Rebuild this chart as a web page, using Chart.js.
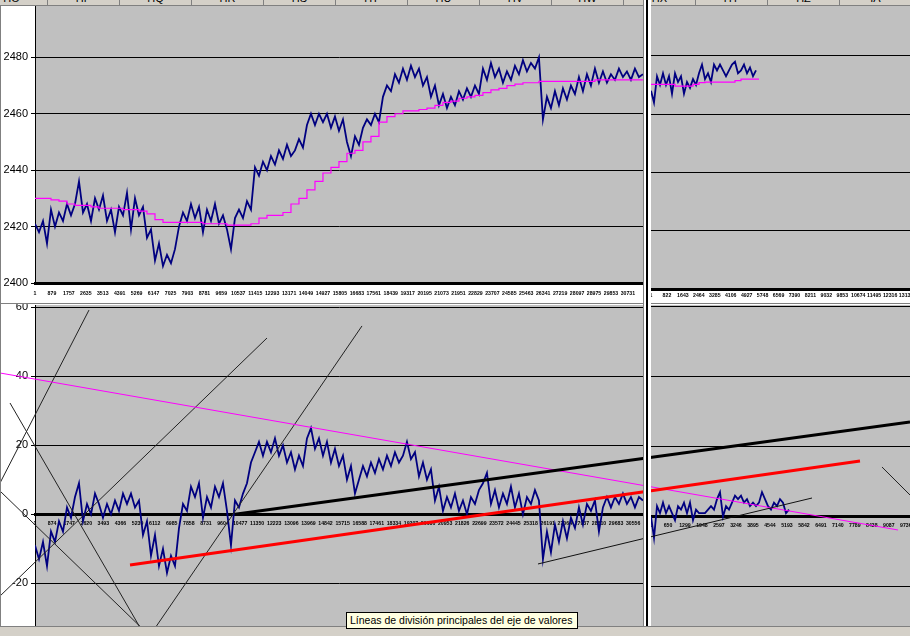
<!DOCTYPE html>
<html>
<head>
<meta charset="utf-8">
<script src="https://cdn.jsdelivr.net/npm/chart.js@4.4.1/dist/chart.umd.min.js"></script>
<style>
  html, body { margin: 0; padding: 0; }
  body {
    width: 910px; height: 636px; overflow: hidden; position: relative;
    background: #fff; font-family: "Liberation Sans", Arial, sans-serif;
  }
  canvas { position: absolute; display: block; }
  #hdr {
    position: absolute; left: 0; top: 0; width: 910px; height: 5px;
    background: #d4d0c8; border-bottom: 1px solid #808080; overflow: hidden; z-index: 3;
  }
  .col {
    position: absolute; top: -9px; height: 14px; width: 71px;
    border-right: 1px solid #808080; text-align: center;
    font-size: 11px; line-height: 14px; color: #000;
  }
  #edge { position: absolute; left: 0; top: 6px; width: 1px; height: 620px; background: #808080; z-index: 4; }
  #split {
    position: absolute; left: 643px; top: 0; width: 8px; height: 626px;
    background: #fff; border-left: 1px solid #808080; box-sizing: border-box; z-index: 5;
  }
  #split i { position: absolute; left: 2px; top: 0; width: 2px; height: 100%; background: #000; }
  #mid { position: absolute; left: 0; top: 303px; width: 910px; height: 1px; background: #808080; z-index: 4; }
  #foot {
    position: absolute; left: 0; top: 626px; width: 910px; height: 10px;
    background: #d4d0c8; border-top: 1px solid #808080; box-sizing: border-box; z-index: 6;
  }
  #tip {
    position: absolute; left: 346px; top: 612px; width: 232px; height: 17px; box-sizing: border-box;
    background: #ffffe1; border: 1px solid #000; font-size: 10.5px; line-height: 15px;
    padding-left: 3px; white-space: nowrap; overflow: hidden; z-index: 7; color: #000;
  }
</style>
</head>
<body>
<div id="hdr"></div>
<canvas id="cTL" width="645" height="297" style="left:0;top:6px;z-index:1"></canvas>
<canvas id="cTR" width="300" height="297" style="left:651px;top:6px;z-index:1"></canvas>
<canvas id="cBR" width="300" height="322" style="left:651px;top:304px;z-index:1"></canvas>
<canvas id="cBL" width="910" height="322" style="left:0;top:304px;z-index:2"></canvas>
<div id="edge"></div>
<div id="mid"></div>
<div id="split"><i></i></div>
<div id="foot"></div>
<div id="tip">Líneas de división principales del eje de valores</div>

<script>
// ── sheet column headers ─────────────────────────────────────────────
const COLS = ["HO", "HP", "HQ", "HR", "HS", "HT", "HU", "HV", "HW", "HX", "HY", "HZ", "IA"];

// ── axes ─────────────────────────────────────────────────────────────
const Y_TICKS_PRICE = [2400, 2420, 2440, 2460, 2480];
const Y_TICKS_DIFF = [-20, 0, 20, 40, 60];

const X_TICKS_TL = [1, 879, 1757, 2635, 3513, 4391, 5269, 6147, 7025, 7903, 8781, 9659,
  10537, 11415, 12293, 13171, 14049, 14927, 15805, 16683, 17561, 18439, 19317, 20195,
  21073, 21951, 22829, 23707, 24585, 25463, 26341, 27219, 28097, 28975, 29853, 30731];
const X_TICKS_BL = [1, 874, 1747, 2620, 3493, 4366, 5239, 6112, 6985, 7858, 8731, 9604,
  10477, 11350, 12223, 13096, 13969, 14842, 15715, 16588, 17461, 18334, 19207, 20080,
  20953, 21826, 22699, 23572, 24445, 25318, 26191, 27064, 27937, 28810, 29683, 30556];
const X_TICKS_TR = [1, 822, 1643, 2464, 3285, 4106, 4927, 5748, 6569, 7390, 8211, 9032,
  9853, 10674, 11495, 12316, 13137];
const X_TICKS_BR = [1, 650, 1299, 1948, 2597, 3246, 3895, 4544, 5193, 5842, 6491, 7140,
  7789, 8438, 9087, 9736];

// ── series (values read off the picture, sampled every few rows) ────
// price, main pane (one value every 207 rows)
const TL_PRICE = [
  2421, 2418, 2422, 2414, 2426, 2420, 2425, 2422, 2428, 2424,
  2428, 2436, 2425, 2428, 2422, 2430, 2426, 2431, 2422, 2426,
  2418, 2427, 2424, 2432, 2419, 2430, 2424, 2427, 2416, 2419,
  2408, 2414, 2406, 2410, 2407, 2412, 2420, 2425, 2422, 2428,
  2423, 2427, 2418, 2426, 2422, 2428, 2421, 2424, 2419, 2412,
  2423, 2426, 2423, 2429, 2426, 2441, 2438, 2443, 2440, 2445,
  2442, 2447, 2444, 2449, 2445, 2447, 2451, 2448, 2456, 2460,
  2456, 2460, 2457, 2460, 2455, 2459, 2454, 2458, 2450, 2445,
  2452, 2449, 2455, 2458, 2456, 2460, 2457, 2466, 2470, 2468,
  2474, 2471, 2476, 2472, 2477, 2473, 2476, 2470, 2473, 2466,
  2470, 2463, 2467, 2462, 2466, 2463, 2468, 2465, 2469, 2466,
  2470, 2467, 2476, 2472, 2478, 2473, 2476, 2471, 2475, 2472,
  2477, 2474, 2479, 2475, 2478, 2476, 2480, 2458, 2466, 2462,
  2468, 2463, 2469, 2465, 2470, 2467, 2473, 2468, 2474, 2470,
  2476, 2471, 2475, 2471, 2474, 2472, 2476, 2473, 2475, 2472,
  2476, 2473, 2474,
];
const TL_PRICE_STEP = 207.3;

// moving level, main pane (one value every 415 rows)
const TL_LEVEL = [
  2430, 2430, 2429.5, 2429, 2428, 2427.5, 2427.5, 2427, 2426.5, 2426.5,
  2426.5, 2426, 2426, 2425.5, 2424.5, 2422.5, 2421.5, 2421.5, 2421.5, 2421.5,
  2421.5, 2421, 2421, 2421, 2420.5, 2420.5, 2420.5, 2421, 2423, 2424,
  2424, 2425, 2428, 2430, 2433, 2436, 2439, 2441, 2443, 2446,
  2447, 2450, 2452, 2457, 2459, 2460, 2461, 2461, 2461.5, 2462,
  2463, 2464, 2464.5, 2465.5, 2466, 2466.5, 2467.5, 2468.5, 2469, 2470,
  2470.5, 2471, 2471, 2471.5, 2471.5, 2471.5, 2471.5, 2471.5, 2471.5, 2471.5,
  2472, 2472, 2472, 2472, 2472, 2472, 2472,
];
const TL_LEVEL_STEP = 414.6;

// price, right pane
const TR_PRICE = [
  2468, 2464, 2473, 2470, 2474, 2470, 2473, 2467, 2474, 2471,
  2473, 2467, 2471, 2469, 2472, 2470, 2474, 2477, 2472, 2474,
  2471, 2477, 2475, 2477, 2475, 2473, 2475, 2477, 2478, 2474,
  2475, 2477, 2474, 2476, 2473, 2475,
];
const TR_PRICE_STEP = 154.5;

const TR_LEVEL = [
  2470.2, 2470.2, 2470.2, 2470.2, 2469.6, 2469.6, 2469.6, 2470.2, 2470.8, 2471,
  2471, 2471, 2471, 2471, 2471.5, 2472, 2472, 2472, 2472,
];
const TR_LEVEL_STEP = 309;

// difference, main pane
const BL_DIFF = [
  -9, -13, -8, -15, -5, -8, -2, -5, 2, -1,
  5, 9, -2, 3, 0, 6, 3, -1, 3, 0,
  4, 1, 6, 3, 6, 2, 4, -6, -2, -12,
  -6, -15, -10, -17, -12, -15, -4, 3, 1, 8,
  5, 9, -1, 5, 2, 8, 5, 9, 1, -9,
  4, 2, 6, 9, 15, 18, 21, 17, 21, 18,
  22, 17, 20, 15, 18, 13, 17, 14, 22, 25,
  19, 22, 17, 21, 15, 19, 14, 17, 10, 14,
  6, 10, 14, 11, 15, 12, 16, 13, 17, 14,
  18, 15, 17, 21, 16, 18, 11, 15, 10, 13,
  4, 8, 1, 5, 2, 6, 1, 4, 0, 5,
  3, 7, 9, 12, 3, 7, 2, 6, 3, 8,
  2, 6, 0, 5, 3, 7, 4, -13, -5, -11,
  -3, -8, -2, -7, -1, -4, 2, -3, 3, 1,
  4, -5, 2, 5, 2, 5, 3, 6, 3, 5,
  2, 5, 4,
];
const BL_DIFF_STEP = 204.3;

// difference, right pane
const BR_DIFF = [
  0, -6, 3, 1, 4, 1, 3, 1, -1, 3,
  2, 4, 1, 4, -1, 2, 1, 1, 1, 2,
  3, 2, 5, 7, 0, 3, 2, 4, 6, 5,
  6, 4, 5, 3, 4, 3, 4, 7, 5, 3,
  2, 4, 3, 5, 4, 1, 2,
];
const BR_DIFF_STEP = 114.6;

// ── hand-drawn trend lines, in (row, value) of the lower main pane ───
const TREND_PINK = [[-1787, 40.96], [44083, -4.55]];
const TREND_BLACK = [[10217, 0], [44696, 26.75]];
const TREND_RED = [[4854, -14.7], [42142, 15.45]];
const TREND_LOW = [[25694, -14.4], [39691, 4.72]];
const GUIDES = [
  [[2759, 59.2], [-1787, 9.07]],
  [[-1276, 32.26], [5722, -36.3]],
  [[-1787, 6.75], [6080, -36.4]],
  [[11852, 51.1], [-1787, -23.7]],
  [[16704, 54.6], [5722, -36.4]],
  [[43265, 13.71], [45717, -0.2]],
];

// ════════════════════════════════════════════════════════════════════
Chart.defaults.font.family = "'Liberation Sans', Arial, sans-serif";
Chart.defaults.color = "#000";

const NAVY = "#000080";
const PINK = "#ff00ff";

document.getElementById("hdr").innerHTML = COLS.map(
  (c, i) => `<div class="col" style="left:${-24 + i * 72}px">${c}</div>`,
).join("");

const plotBg = {
  id: "plotBg",
  beforeDraw(chart) {
    const { ctx, chartArea: a } = chart;
    ctx.save();
    ctx.fillStyle = "#c0c0c0";
    ctx.fillRect(a.left, a.top, a.right - a.left, a.bottom - a.top);
    ctx.restore();
  },
};

const series = (vals, step) => vals.map((v, i) => ({ x: 1 + i * step, y: v }));
const seg = (pts) => pts.map(([x, y]) => ({ x, y }));

function line(data, color, width, extra = {}) {
  return { data, borderColor: color, borderWidth: width, pointRadius: 0, tension: 0, ...extra };
}

function makePanel(id, o) {
  return new Chart(document.getElementById(id), {
    type: "line",
    data: { datasets: o.datasets },
    options: {
      responsive: false,
      animation: false,
      devicePixelRatio: 1,
      events: [],
      layout: { padding: o.padding },
      plugins: { legend: { display: false }, tooltip: { enabled: false } },
      scales: {
        x: {
          type: "linear",
          min: 1,
          max: o.xMax,
          position: o.axisAtZero ? { y: 0 } : "bottom",
          z: 1,
          grid: { display: false, drawTicks: false },
          border: { display: true, color: "#000", width: 3 },
          ticks: {
            autoSkip: false,
            maxRotation: 0,
            minRotation: 0,
            padding: o.xPad,
            color: "#000",
            font: { size: 5.2, weight: "bold" },
            callback: (v) => String(v),
          },
          afterBuildTicks: (s) => { s.ticks = o.xTicks.map((v) => ({ value: v })); },
          afterFit: (s) => {
            s.height = o.xAxisH;
            s.paddingLeft = 0;
            s.paddingRight = 0;
          },
        },
        y: {
          type: "linear",
          min: o.yMin,
          max: o.yMax,
          grid: { color: "#000", lineWidth: 1, drawTicks: o.showY, tickLength: 4 },
          border: { display: o.showY, color: "#000", width: 1 },
          ticks: {
            display: o.showY,
            padding: 3,
            color: "#000",
            font: { size: 11 },
            callback: (v) => String(v),
          },
          afterBuildTicks: (s) => { s.ticks = o.yTicks.map((v) => ({ value: v })); },
          afterFit: (s) => {
            s.width = o.showY ? 35 : 0;
            s.paddingTop = 0;
            s.paddingBottom = 0;
          },
        },
      },
    },
    plugins: [plotBg],
  });
}

// upper main pane: price + moving level
makePanel("cTL", {
  padding: { left: 0, top: 0, right: 2, bottom: 0 },
  xMax: 31514, xTicks: X_TICKS_TL, xAxisH: 20, xPad: 7,
  yMin: 2400, yMax: 2498.2, yTicks: Y_TICKS_PRICE, showY: true,
  datasets: [
    line(series(TL_LEVEL, TL_LEVEL_STEP), PINK, 1.2, { stepped: true }),
    line(series(TL_PRICE, TL_PRICE_STEP), NAVY, 1.8),
  ],
});

// upper right pane
makePanel("cTR", {
  padding: { left: 0, top: 0, right: 0, bottom: 0 },
  xMax: 15451, xTicks: X_TICKS_TR, xAxisH: 14, xPad: 3,
  yMin: 2400, yMax: 2497.1, yTicks: Y_TICKS_PRICE, showY: false,
  datasets: [
    line(series(TR_LEVEL, TR_LEVEL_STEP), PINK, 1.2, { stepped: true }),
    line(series(TR_PRICE, TR_PRICE_STEP), NAVY, 1.8),
  ],
});

// lower right pane
makePanel("cBR", {
  padding: { left: 0, top: 1, right: 0, bottom: 0 },
  xMax: 11461, xTicks: X_TICKS_BR, xAxisH: 0, xPad: 6, axisAtZero: true,
  yMin: -31.14, yMax: 60.3, yTicks: Y_TICKS_DIFF, showY: false,
  datasets: [line(series(BR_DIFF, BR_DIFF_STEP), NAVY, 1.8)],
});

// lower main pane, with the drawn trend lines running across both panes
makePanel("cBL", {
  padding: { left: 0, top: 1, right: 267, bottom: 0 },
  xMax: 31058, xTicks: X_TICKS_BL, xAxisH: 0, xPad: 6, axisAtZero: true,
  yMin: -32.38, yMax: 60.67, yTicks: Y_TICKS_DIFF, showY: true,
  datasets: [
    line(seg(TREND_RED), "#ff0000", 3, { clip: false }),
    line(seg(TREND_BLACK), "#000", 3, { clip: false }),
    line(seg(TREND_LOW), "#111", 1, { clip: false }),
    line(seg(TREND_PINK), PINK, 1, { clip: false }),
    ...GUIDES.map((g) => line(seg(g), "#222", 1, { clip: false })),
    line(series(BL_DIFF, BL_DIFF_STEP), NAVY, 1.8),
  ],
});
</script>
</body>
</html>
